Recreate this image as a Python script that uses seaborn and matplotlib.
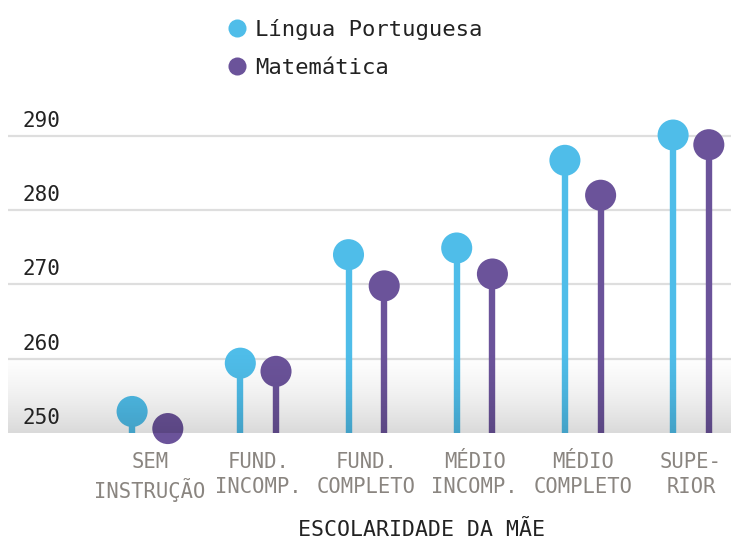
import numpy as np
import pandas as pd
import matplotlib
matplotlib.use("Agg")
import matplotlib.pyplot as plt
import seaborn as sns
from matplotlib.lines import Line2D
from matplotlib.colors import LinearSegmentedColormap

categories = ["SEM\nINSTRUÇÃO", "FUND.\nINCOMP.", "FUND.\nCOMPLETO",
              "MÉDIO\nINCOMP.", "MÉDIO\nCOMPLETO", "SUPE-\nRIOR"]
lingua_portuguesa = [252.9, 259.4, 274.0, 274.9, 286.7, 290.1]
matematica = [250.6, 258.3, 269.8, 271.4, 282.0, 288.8]
series_names = ["Língua Portuguesa", "Matemática"]
y_ticks = [250, 260, 270, 280, 290]
x_title = "ESCOLARIDADE DA MÃE"

colors = {"Língua Portuguesa": "#4FBDE9", "Matemática": "#6B539A"}
offsets = {"Língua Portuguesa": -0.165, "Matemática": 0.165}

rows = []
for i, c in enumerate(categories):
    rows.append({"cat": i, "serie": series_names[0], "valor": lingua_portuguesa[i]})
    rows.append({"cat": i, "serie": series_names[1], "valor": matematica[i]})
df = pd.DataFrame(rows)
df["x"] = df["cat"] + df["serie"].map(offsets)

sns.set_theme(style="white")
plt.rcParams["font.family"] = ["DejaVu Sans Mono", "DejaVu Sans"]

fig = plt.figure(figsize=(7.31, 5.41), dpi=100)
ax = fig.add_axes([8 / 731, 0.1996, 723 / 731, 0.5906])
ymin, ymax = 250, 293
x0, x1 = -1.312, 5.37

for t in y_ticks[1:]:
    ax.axhline(t, color="#dedede", lw=1.6, zorder=0)

for s in series_names:
    sub = df[df["serie"] == s]
    ax.vlines(sub["x"], ymin, sub["valor"], color=colors[s], lw=4.6, zorder=2)

sns.scatterplot(data=df, x="x", y="valor", hue="serie", palette=colors,
                s=500, edgecolor="none", linewidth=0, legend=False,
                ax=ax, zorder=3, clip_on=False)

# bottom shade gradient (transparent at top, grey at the base line)
grad = (np.linspace(0, 1, 256).reshape(-1, 1)) ** 1.5
cmap = LinearSegmentedColormap.from_list("sh", [(0, 0, 0, 0.0), (0, 0, 0, 0.15)])
ax.imshow(grad, extent=[x0, x1, ymin, 261.5], aspect="auto",
          cmap=cmap, vmin=0, vmax=1, zorder=5, origin="upper",
          interpolation="bicubic")
ax.set_xlim(x0, x1)
ax.set_ylim(ymin, ymax)

for t in y_ticks:
    ax.text((22 - 8) / 723, t + 0.7, str(t), transform=ax.get_yaxis_transform(),
            ha="left", va="bottom", fontsize=15, color="#222222", zorder=6)

ax.set_yticks([])
ax.set_xticks(range(len(categories)))
ax.set_xticklabels(categories, fontsize=14.8, color="#8a8580", linespacing=1.3)
ax.tick_params(axis="x", length=0, pad=14)
ax.set_xlabel("")
ax.set_ylabel("")
for sp in ax.spines.values():
    sp.set_visible(False)

fig.text(421 / 731, 1 - 530 / 541, x_title, ha="center", va="center",
         fontsize=15.5, color="#222222")

handles = [Line2D([0], [0], marker="o", color="none", markerfacecolor=colors[s],
                  markeredgecolor="none", markersize=13) for s in series_names]
fig.legend(handles, series_names, loc="upper left",
           bbox_to_anchor=(213 / 731, 1 - 8 / 541), frameon=False,
           fontsize=16, labelspacing=0.8, handletextpad=0.2,
           handlelength=1.2, borderpad=0, labelcolor="#222222")

fig.savefig("out.png", dpi=100, facecolor="white")
